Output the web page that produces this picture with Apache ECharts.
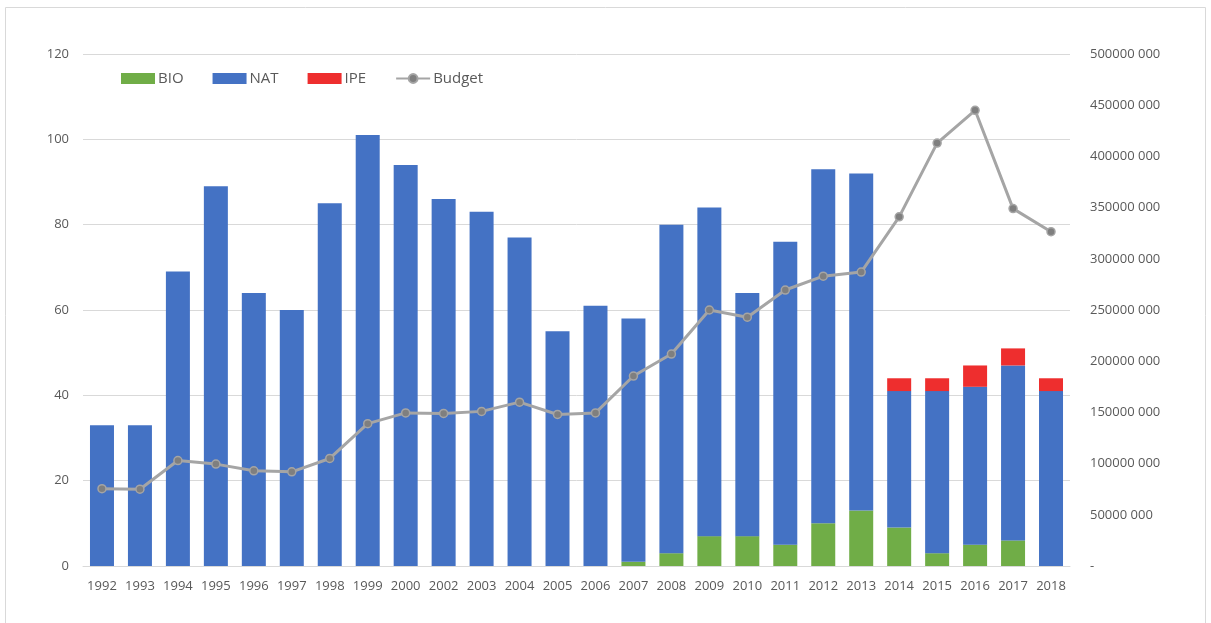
<!DOCTYPE html>
<html>
<head>
<meta charset="utf-8">
<script src="https://cdn.jsdelivr.net/npm/echarts@6/dist/echarts.min.js"></script>
<style>
  html, body { margin: 0; padding: 0; background: #fff; }
  #main { width: 1211px; height: 623px; }
</style>
</head>
<body>
<div id="main"></div>
<script>
var years = ['1992', '1993', '1994', '1995', '1996', '1997', '1998', '1999', '2000', '2002',
    '2003', '2004', '2005', '2006', '2007', '2008', '2009', '2010', '2011', '2012',
    '2013', '2014', '2015', '2016', '2017', '2018'];

var bio = [0, 0, 0, 0, 0, 0, 0, 0, 0, 0,
    0, 0, 0, 0, 1, 3, 7, 7, 5, 10,
    13, 9, 3, 5, 6, 0];

var nat = [33, 33, 69, 89, 64, 60, 85, 101, 94, 86,
    83, 77, 55, 61, 57, 77, 77, 57, 71, 83,
    79, 32, 38, 37, 41, 41];

var ipe = [0, 0, 0, 0, 0, 0, 0, 0, 0, 0,
    0, 0, 0, 0, 0, 0, 0, 0, 0, 0,
    0, 3, 3, 5, 4, 3];

var budget = [75500000, 75000000, 103000000, 99500000, 93000000, 92000000, 105000000, 139000000, 149500000, 149000000,
    151000000, 160000000, 148000000, 149500000, 185500000, 207000000, 250000000, 243000000, 269500000, 283000000,
    287000000, 341000000, 413000000, 445000000, 349000000, 326500000];

var txt = '#595959';
var chart = echarts.init(document.getElementById('main'));

var option = {
    animation: false,
    textStyle: { fontFamily: 'Open Sans, Noto Sans, sans-serif' },
    graphic: [{
        type: 'rect',
        shape: { x: 5.5, y: 7.5, width: 1200, height: 640 },
        style: { fill: 'none', stroke: '#d9d9d9', lineWidth: 1 },
        silent: true
    }],
    legend: {
        left: 116,
        top: 66,
        itemWidth: 34,
        itemHeight: 11,
        itemGap: 29,
        textStyle: { color: txt, fontSize: 15, padding: [0, 0, 0, -2] },
        data: [
            { name: 'BIO', icon: 'rect' },
            { name: 'NAT', icon: 'rect' },
            { name: 'IPE', icon: 'rect' },
            'Budget'
        ]
    },
    grid: {
        left: 83,
        right: 141,
        top: 54,
        bottom: 57
    },
    xAxis: {
        type: 'category',
        data: years,
        axisTick: { show: false },
        axisLine: { lineStyle: { color: '#d9d9d9', width: 1 } },
        axisLabel: { color: txt, fontSize: 13, margin: 14, interval: 0 }
    },
    yAxis: [{
        type: 'value',
        min: 0,
        max: 120,
        interval: 20,
        axisLine: { show: false },
        axisTick: { show: false },
        splitLine: { lineStyle: { color: '#d9d9d9' } },
        axisLabel: { color: txt, fontSize: 13, margin: 14 }
    }, {
        type: 'value',
        min: 0,
        max: 500000000,
        interval: 50000000,
        axisLine: { show: false },
        axisTick: { show: false },
        splitLine: { show: false },
        axisLabel: {
            color: txt,
            fontSize: 13,
            margin: 20,
            formatter: function (v) {
                if (v === 0) return '-';
                return Math.floor(v / 1000) + ' 000';
            }
        }
    }],
    series: [{
        name: 'BIO',
        type: 'bar',
        stack: 'total',
        barWidth: 24,
        itemStyle: { color: '#70ad47' },
        data: bio
    }, {
        name: 'NAT',
        type: 'bar',
        stack: 'total',
        barWidth: 24,
        itemStyle: { color: '#4472c4' },
        data: nat
    }, {
        name: 'IPE',
        type: 'bar',
        stack: 'total',
        barWidth: 24,
        itemStyle: { color: '#ee2e2e' },
        data: ipe
    }, {
        name: 'Budget',
        type: 'line',
        yAxisIndex: 1,
        symbol: 'circle',
        symbolSize: 8,
        lineStyle: { color: '#a5a5a5', width: 3 },
        itemStyle: { color: '#7f7f7f', borderColor: '#a5a5a5', borderWidth: 1.5 },
        data: budget
    }]
};

chart.setOption(option);
</script>
</body>
</html>
